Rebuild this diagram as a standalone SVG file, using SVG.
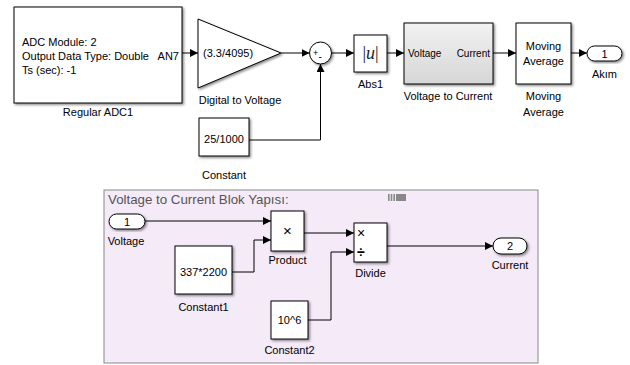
<svg xmlns="http://www.w3.org/2000/svg" width="630" height="365" viewBox="0 0 630 365">
<style>
text{font-family:"Liberation Sans",Arial,sans-serif;font-size:11px;fill:#000}
.blk{fill:#fff;stroke:#000;stroke-width:1;filter:url(#sh)}
.lbl{text-anchor:middle}
.in{font-size:11px}
.sm{font-size:10px}
.ln{fill:none;stroke:#000;stroke-width:1;marker-end:url(#arr)}
</style>
<defs>
<filter id="sh" x="-20%" y="-20%" width="140%" height="140%">
<feDropShadow dx="1.5" dy="1.5" stdDeviation="0.8" flood-color="#000" flood-opacity="0.45"/>
</filter>
<linearGradient id="gr" x1="0" y1="0" x2="0" y2="1">
<stop offset="0" stop-color="#f2f2f2"/>
<stop offset="1" stop-color="#d6d6d6"/>
</linearGradient>
<marker id="arr" markerWidth="8" markerHeight="8" refX="8" refY="4" orient="auto" markerUnits="userSpaceOnUse">
<path d="M0,0 L8,4 L0,8 z" fill="#000"/>
</marker>
</defs>
<rect width="630" height="365" fill="#fff"/>

<g id="area">
<rect x="104" y="190" width="434" height="173" fill="#f5eaf8" stroke="#8a8a8a" stroke-width="1"/>
<text x="108" y="204" style="fill:#555;font-size:13.3px">Voltage to Current Blok Yapısı:</text>
<rect x="388" y="194" width="1.6" height="7" fill="#888"/>
<rect x="390.7" y="194" width="1.6" height="7" fill="#888"/>
<rect x="393.4" y="194" width="1.6" height="7" fill="#888"/>
<rect x="396" y="194" width="10" height="7" fill="#888"/>
</g>

<g id="connectors">
<line class="ln" x1="182" y1="53" x2="198" y2="53"/>
<line class="ln" x1="281" y1="53" x2="309.5" y2="53"/>
<polyline class="ln" points="249,140 320.5,140 320.5,64"/>
<line class="ln" x1="331.5" y1="53" x2="354" y2="53"/>
<line class="ln" x1="387" y1="53" x2="404" y2="53"/>
<line class="ln" x1="493" y1="53" x2="516" y2="53"/>
<line class="ln" x1="571" y1="53" x2="587" y2="53"/>
<line class="ln" x1="145" y1="221" x2="271" y2="221"/>
<polyline class="ln" points="232,272 254,272 254,240 271,240"/>
<line class="ln" x1="304" y1="233" x2="354" y2="233"/>
<polyline class="ln" points="308,320 331,320 331,252 354,252"/>
<line class="ln" x1="387" y1="246" x2="493" y2="246"/>
</g>

<g id="adc">
<rect class="blk" x="14" y="7" width="168" height="96"/>
<text x="22" y="46">ADC Module: 2</text>
<text x="22" y="60">Output Data Type: Double</text>
<text x="22" y="74">Ts (sec): -1</text>
<text x="179" y="60" text-anchor="end">AN7</text>
<text class="lbl" x="98" y="116">Regular ADC1</text>
</g>

<g id="gain">
<polygon points="198,19 281,53 198,88" fill="#fff" stroke="#000" stroke-width="1" filter="url(#sh)"/>
<text x="203" y="57">(3.3/4095)</text>
<text class="lbl" x="240" y="104">Digital to Voltage</text>
</g>

<g id="constant">
<rect class="blk" x="199" y="118" width="50" height="38"/>
<text class="lbl" x="224" y="143">25/1000</text>
<text class="lbl" x="224" y="179">Constant</text>
</g>

<g id="sum">
<circle cx="320.5" cy="53" r="11" fill="#fff" stroke="#000" stroke-width="1" filter="url(#sh)"/>
<text x="313" y="56" style="font-size:9px">+</text>
<text x="318.5" y="60" style="font-size:10px">-</text>
</g>

<g id="abs">
<rect class="blk" x="354" y="35" width="33" height="37"/>
<text class="lbl" x="370.5" y="59" style="font-family:'Liberation Serif',serif;font-size:18px;fill:#222"><tspan>|</tspan><tspan font-style="italic">u</tspan><tspan>|</tspan></text>
<text class="lbl" x="370.5" y="88">Abs1</text>
</g>

<g id="subsystem">
<rect x="404" y="23" width="89" height="61" fill="url(#gr)" stroke="#000" stroke-width="1" filter="url(#sh)"/>
<text class="sm" x="408" y="57">Voltage</text>
<text class="sm" x="490" y="57" text-anchor="end">Current</text>
<text class="lbl" x="448" y="100">Voltage to Current</text>
</g>

<g id="moving-average">
<rect class="blk" x="516" y="23" width="55" height="61"/>
<text class="lbl" x="543.5" y="50">Moving</text>
<text class="lbl" x="543.5" y="65">Average</text>
<text class="lbl" x="543.5" y="100">Moving</text>
<text class="lbl" x="543.5" y="116">Average</text>
</g>

<g id="akim">
<rect class="blk" x="587" y="46" width="35" height="15" rx="7.5" ry="7.5"/>
<text class="lbl in" x="604.5" y="57.5">1</text>
<text class="lbl" x="604.5" y="78">Akım</text>
</g>

<g id="voltage-in">
<rect class="blk" x="109" y="214" width="36" height="15" rx="7.5" ry="7.5"/>
<text class="lbl in" x="127" y="225.5">1</text>
<text class="lbl" x="126" y="245">Voltage</text>
</g>

<g id="product">
<rect class="blk" x="271" y="211" width="33" height="40"/>
<text class="lbl" x="287.5" y="236" style="font-size:15px">×</text>
<text class="lbl" x="287.5" y="264">Product</text>
</g>

<g id="constant1">
<rect class="blk" x="175" y="246" width="57" height="48"/>
<text class="lbl" x="203.5" y="276">337*2200</text>
<text class="lbl" x="203.5" y="311">Constant1</text>
</g>

<g id="divide">
<rect class="blk" x="354" y="223" width="33" height="39"/>
<text x="357" y="238" style="font-size:14px">×</text>
<text x="357" y="257" style="font-size:14px;font-weight:bold">÷</text>
<text class="lbl" x="370.5" y="277">Divide</text>
</g>

<g id="constant2">
<rect class="blk" x="271" y="301" width="37" height="38"/>
<text class="lbl" x="289.5" y="324">10^6</text>
<text class="lbl" x="289.5" y="354">Constant2</text>
</g>

<g id="current-out">
<rect class="blk" x="493" y="238" width="34" height="16" rx="8" ry="8"/>
<text class="lbl in" x="510" y="250">2</text>
<text class="lbl" x="510" y="269">Current</text>
</g>
</svg>
